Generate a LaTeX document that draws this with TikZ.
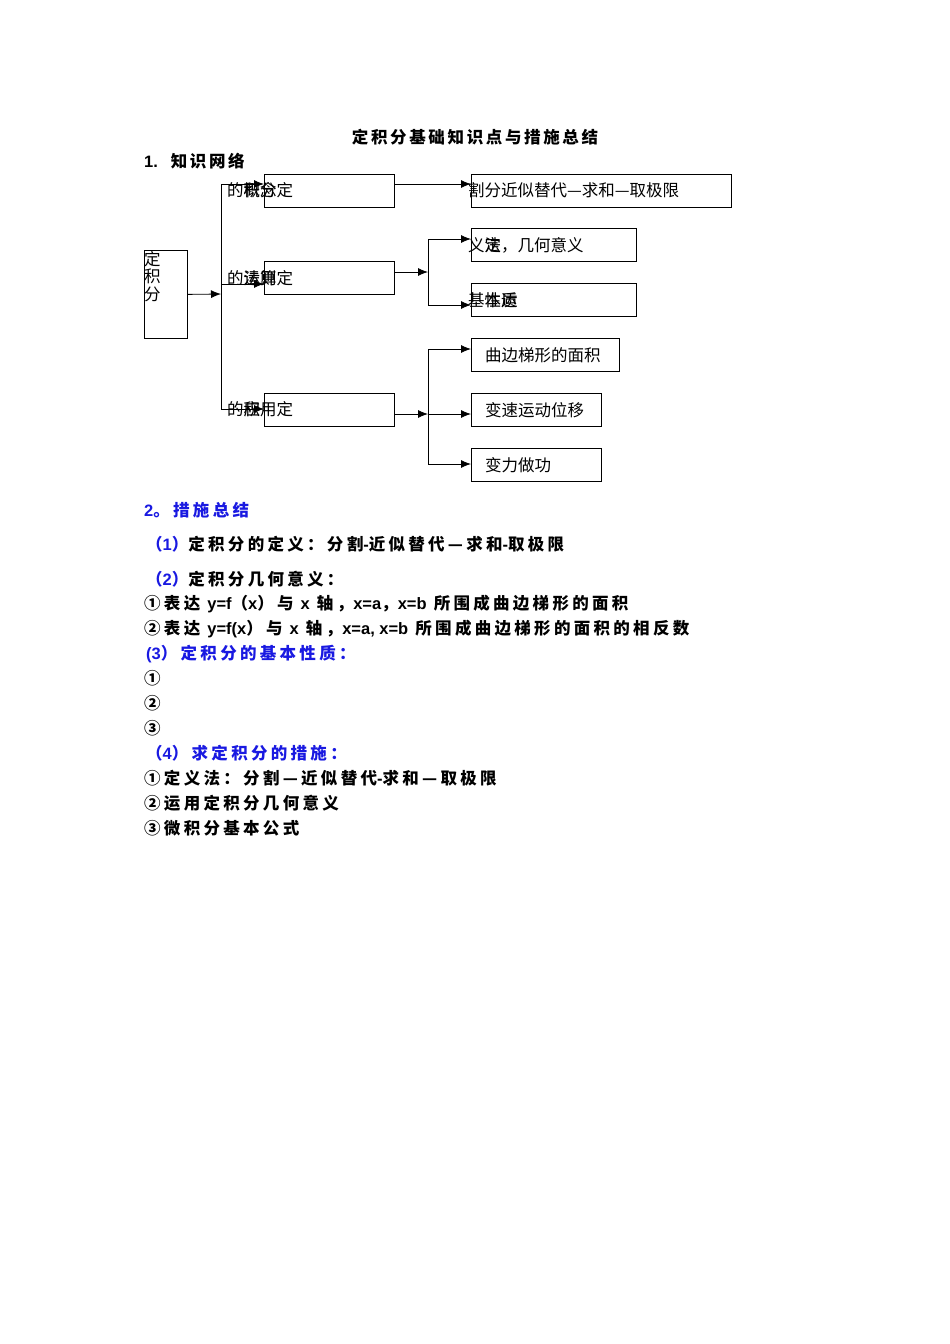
\documentclass[tikz,border=0pt]{standalone}
\usepackage{fontspec}
\usepackage{xcolor}
\usetikzlibrary{arrows.meta}
\setmainfont{Liberation Sans}
\newfontfamily\cjk{Noto Sans CJK SC}
\newfontfamily\cjktitle[LetterSpace=16]{Noto Sans CJK SC}
\newfontfamily\cjkbody[LetterSpace=20]{Noto Sans CJK SC}
\newfontfamily\latbody{Liberation Sans}
\newcommand{\boxfont}{\cjk\fontsize{16.5}{17.5}\selectfont}
\newcommand{\titlefont}{\cjktitle\bfseries\fontsize{16.5}{18}\selectfont}
\newcommand{\bodyfont}{\cjkbody\bfseries\fontsize{16.5}{18}\selectfont}
\newcommand{\lt}[1]{{\latbody\bfseries #1}}
\definecolor{headblue}{RGB}{25,25,225}

\begin{document}
\begin{tikzpicture}[x=1pt, y=-1pt,
  box/.style={draw, line width=0.8pt, inner sep=0pt, anchor=north west, minimum height=33pt},
  lbl/.style={anchor=west, inner sep=0pt, font=\boxfont},
  txt/.style={anchor=west, inner sep=0pt, font=\bodyfont},
  hd/.style={txt, text=headblue},
  link/.style={line width=0.8pt},
  arr/.style={link, ->, >={Latex[length=10pt,width=8pt]}}]
  \useasboundingbox (0,0) rectangle (950,1344);

  \node[txt, font=\titlefont, anchor=center] (title) at (475,137) {定积分基础知识点与措施总结};
  \node[txt, font=\titlefont] (net) at (144,161) {\lt{1.}\ \ 知识网络};

  % knowledge network
  \node[box, minimum width=43pt, minimum height=88pt] (djf) at (144,250) {};
  \node[lbl, anchor=north west, align=left] (djftxt) at (144,251) {定\\积\\分};

  \node[box, minimum width=130pt] (gn) at (264,174) {};
  \node[box, minimum width=130pt] (ys) at (264,261) {};
  \node[box, minimum width=130pt] (yy) at (264,393) {};
  \node[lbl] (gnt) at (227,190) {的\rlap{积}概\rlap{分}念定};
  \node[lbl] (yst) at (227,278) {的\rlap{运}法\rlap{算}则定};
  \node[lbl] (yyt) at (227,409) {的\rlap{应}积用定};

  \node[box, minimum width=260pt] (fg) at (471,174) {};
  \node[box, minimum width=165pt] (jh) at (471,228) {};
  \node[box, minimum width=165pt] (xz) at (471,283) {};
  \node[box, minimum width=148pt] (mj) at (471,338) {};
  \node[box, minimum width=130pt] (wy) at (471,393) {};
  \node[box, minimum width=130pt] (zg) at (471,448) {};
  \node[lbl] (fgt) at (468,190) {割分近似替代—求和—取极限};
  \node[lbl] (jht) at (468,245) {义\rlap{定}法，几何意义};
  \node[lbl] (xzt) at (468,300) {基\rlap{本}性\rlap{运}质};
  \node[lbl] (mjt) at (485,355) {曲边梯形的面积};
  \node[lbl] (wyt) at (485,410) {变速运动位移};
  \node[lbl] (zgt) at (485,465) {变力做功};

  \coordinate (hub) at (221,294);
  \coordinate (hubtop) at (221,184);
  \coordinate (hubmid) at (221,284);
  \coordinate (hubbot) at (221,409);
  \draw[arr] (djf.east) -- (hub);
  \draw[link] (hubtop) -- (hubbot);
  \draw[arr] (hubtop) -- (hubtop -| gn.west);
  \draw[arr] (hubmid) -- (hubmid -| ys.west);
  \draw[arr] (hubbot) -- (hubbot -| yy.west);

  \draw[arr] (gn.east |- hubtop) -- (hubtop -| fg.west);

  \coordinate (sp2) at (428,272);
  \coordinate (sp2a) at (428,239);
  \coordinate (sp2b) at (428,305);
  \draw[arr] (ys.east |- sp2) -- (sp2);
  \draw[link] (sp2a) -- (sp2b);
  \draw[arr] (sp2a) -- (sp2a -| jh.west);
  \draw[arr] (sp2b) -- (sp2b -| xz.west);

  \coordinate (sp3) at (428,414);
  \coordinate (sp3a) at (428,349);
  \coordinate (sp3b) at (428,464);
  \draw[arr] (yy.east |- sp3) -- (sp3);
  \draw[link] (sp3a) -- (sp3b);
  \draw[arr] (sp3a) -- (sp3a -| mj.west);
  \draw[arr] (sp3) -- (sp3 -| wy.west);
  \draw[arr] (sp3b) -- (sp3b -| zg.west);

  % summary
  \node[hd] (sum) at (144,510) {\lt{2}。措施总结};
  \node[txt] (def) at (146,544) {\textcolor{headblue}{（\lt{1}）}定积分的定义：分割\lt{-}近似替代—求和\lt{-}取极限};
  \node[txt] (geo) at (146,579) {\textcolor{headblue}{（\lt{2}）}定积分几何意义：};
  \node[txt] (geoa) at (144,604) {①表达 \lt{y=f}（\lt{x}）与 \lt{x} 轴，\lt{x=a}，\lt{x=b} 所围成曲边梯形的面积};
  \node[txt] (geob) at (144,629) {②表达 \lt{y=f(x}）与 \lt{x} 轴，\lt{x=a, x=b} 所围成曲边梯形的面积的相反数};
  \node[hd] (prop) at (146,654) {\lt{(3}）定积分的基本性质：};
  \node[txt] (propa) at (144,678) {①};
  \node[txt] (propb) at (144,703) {②};
  \node[txt] (propc) at (144,728) {③};
  \node[hd] (way) at (146,753) {（\lt{4}）求定积分的措施：};
  \node[txt] (waya) at (144,778) {①定义法：分割—近似替代\lt{-}求和—取极限};
  \node[txt] (wayb) at (144,803) {②运用定积分几何意义};
  \node[txt] (wayc) at (144,828) {③微积分基本公式};
\end{tikzpicture}
\end{document}
